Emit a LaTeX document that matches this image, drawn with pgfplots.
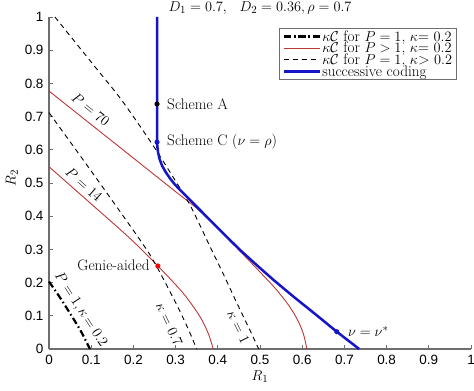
\documentclass[border=0pt]{standalone}
\usepackage{pgfplots}
\pgfplotsset{compat=1.18}
\usepackage{fontspec}
\newfontfamily\ticksans{Liberation Sans}
\definecolor{cred}{RGB}{190,55,55}
\definecolor{cblue}{RGB}{20,20,200}
\definecolor{caxis}{RGB}{110,110,110}
\newcommand\annot{\fontsize{15.3}{16}\selectfont}
\begin{document}
\begin{tikzpicture}
\useasboundingbox (-49bp,-42bp) rectangle (425bp,349bp);
\begin{axis}[
  at={(0,0)}, anchor=south west,
  scale only axis, width=422bp, height=332bp,
  xmin=0, xmax=1, ymin=0, ymax=1,
  clip=false,
  axis x line*=bottom, axis y line*=left,
  axis line style={-, caxis, line width=1.2bp},
  tick style={caxis, line width=0.8bp},
  tick align=inside, major tick length=4bp,
  xtick={0,0.1,0.2,0.3,0.4,0.5,0.6,0.7,0.8,0.9,1},
  xticklabels={0,0.1,0.2,0.3,0.4,0.5,0.6,0.7,0.8,0.9,1},
  ytick={0,0.1,0.2,0.3,0.4,0.5,0.6,0.7,0.8,0.9,1},
  yticklabels={0,0.1,0.2,0.3,0.4,0.5,0.6,0.7,0.8,0.9,1},
  tick label style={font=\ticksans\fontsize{13.5}{15}\selectfont},
  xticklabel style={yshift=-3bp},
  yticklabel style={xshift=-2bp},
  xlabel={$R_1$}, ylabel={$R_2$},
  label style={font=\annot},
  xlabel style={at={(axis description cs:0.5,0)}, anchor=center, yshift=-28bp},
  ylabel style={at={(axis description cs:-0.088,0.515)}, anchor=center},
  legend style={at={(rel axis cs:0.967,0.967)}, anchor=north east,
    draw=caxis, line width=0.8bp, fill=white, font=\annot,
    inner xsep=3bp, inner ysep=0.5bp, row sep=-3.5bp,
    nodes={inner sep=1.5bp}},
  legend cell align=left,
  legend image code/.code={\draw[#1] plot coordinates {(0bp,0bp) (36bp,0bp)};},
]
% kappa C for P=1, kappa=0.2 (dash-dot)
\addplot[black, line width=2.2bp, dash pattern=on 7bp off 3bp on 1.5bp off 3bp, smooth]
  coordinates {(0,0.203) (0.025,0.157) (0.05,0.107) (0.075,0.055) (0.097,0)};
\addlegendentry{$\kappa\mathcal{C}$ for $P=1$, $\kappa$= $0.2$}
% P>1, kappa=0.2 : P=70
\addplot[cred, line width=0.9bp, smooth]
  coordinates {(0,0.777) (0.1,0.676) (0.2,0.575) (0.3,0.474) (0.35,0.424) (0.4,0.363) (0.45,0.298) (0.5,0.232) (0.54,0.177) (0.57,0.128) (0.59,0.085) (0.603,0.045) (0.611,0)};
\addlegendentry{$\kappa\mathcal{C}$ for $P>1$, $\kappa$= $0.2$}
% P=14
\addplot[cred, line width=0.9bp, smooth, forget plot]
  coordinates {(0,0.549) (0.1,0.437) (0.192,0.333) (0.258,0.25) (0.318,0.168) (0.358,0.097) (0.378,0.045) (0.389,0)};
% kappa=1 dashed
\addplot[black, line width=0.9bp, dash pattern=on 5bp off 4bp, smooth]
  coordinates {(0.014,1) (0.109,0.85) (0.172,0.75) (0.243,0.62) (0.29,0.526) (0.334,0.434) (0.381,0.31) (0.413,0.226) (0.445,0.139) (0.476,0.057) (0.497,0)};
\addlegendentry{$\kappa\mathcal{C}$ for $P=1$, $\kappa$> $0.2$}
% kappa=0.7 dashed
\addplot[black, line width=0.9bp, dash pattern=on 5bp off 4bp, smooth, forget plot]
  coordinates {(0,0.712) (0.1,0.536) (0.216,0.328) (0.251,0.258) (0.3,0.14) (0.33,0.06) (0.35,0)};
% successive coding
\addplot[cblue, line width=2.5bp]
  coordinates {(0.256,1) (0.256,0.62) (0.258,0.595) (0.262,0.572) (0.268,0.552) (0.276,0.534) (0.286,0.515) (0.298,0.496) (0.312,0.477) (0.328,0.457) (0.345,0.435) (0.374,0.398) (0.413,0.348) (0.453,0.298) (0.492,0.253) (0.532,0.208) (0.58,0.157) (0.632,0.104) (0.682,0.052) (0.735,0)};
\addlegendentry{successive coding}
% points
\addplot[only marks, mark=*, mark size=2.3bp, black, forget plot] coordinates {(0.256,0.738)};
\addplot[only marks, mark=*, mark size=2.3bp, cblue, forget plot] coordinates {(0.256,0.623) (0.682,0.052)};
\addplot[only marks, mark=*, mark size=2.3bp, red, forget plot] coordinates {(0.258,0.25)};
% annotations
\node[font=\annot, anchor=west, inner sep=0pt, xshift=10bp] at (axis cs:0.256,0.738) {Scheme A};
\node[font=\annot, anchor=west, inner sep=0pt, xshift=10bp] at (axis cs:0.256,0.623) {Scheme C ($\nu=\rho$)};
\node[font=\annot, anchor=west, inner sep=0pt, xshift=11bp] at (axis cs:0.682,0.052) {$\nu=\nu^*$};
\node[font=\annot, anchor=east, inner sep=0pt, xshift=-8bp, yshift=1bp] at (axis cs:0.258,0.25) {Genie-aided};
\node[font=\annot, rotate=-38.5, inner sep=1pt] at (axis cs:0.099,0.722) {$P=70$};
\node[font=\annot, rotate=-41.6, inner sep=1pt] at (axis cs:0.083,0.496) {$P=14$};
\node[font=\annot, rotate=-57, inner sep=1pt] at (axis cs:0.075,0.118) {$P=1,\kappa\!=0.2$};
\node[font=\annot, rotate=-65, inner sep=1pt] at (axis cs:0.285,0.075) {$\kappa=0.7$};
\node[font=\annot, rotate=-64, inner sep=1pt] at (axis cs:0.449,0.066) {$\kappa=1$};
% title
\node[font=\annot, anchor=base, inner sep=0pt] at (rel axis cs:0.5,1) [yshift=5.5bp] {$D_1=0.7,\;\;\, D_2=0.36,\rho=0.7$};
\end{axis}
\end{tikzpicture}
\end{document}
